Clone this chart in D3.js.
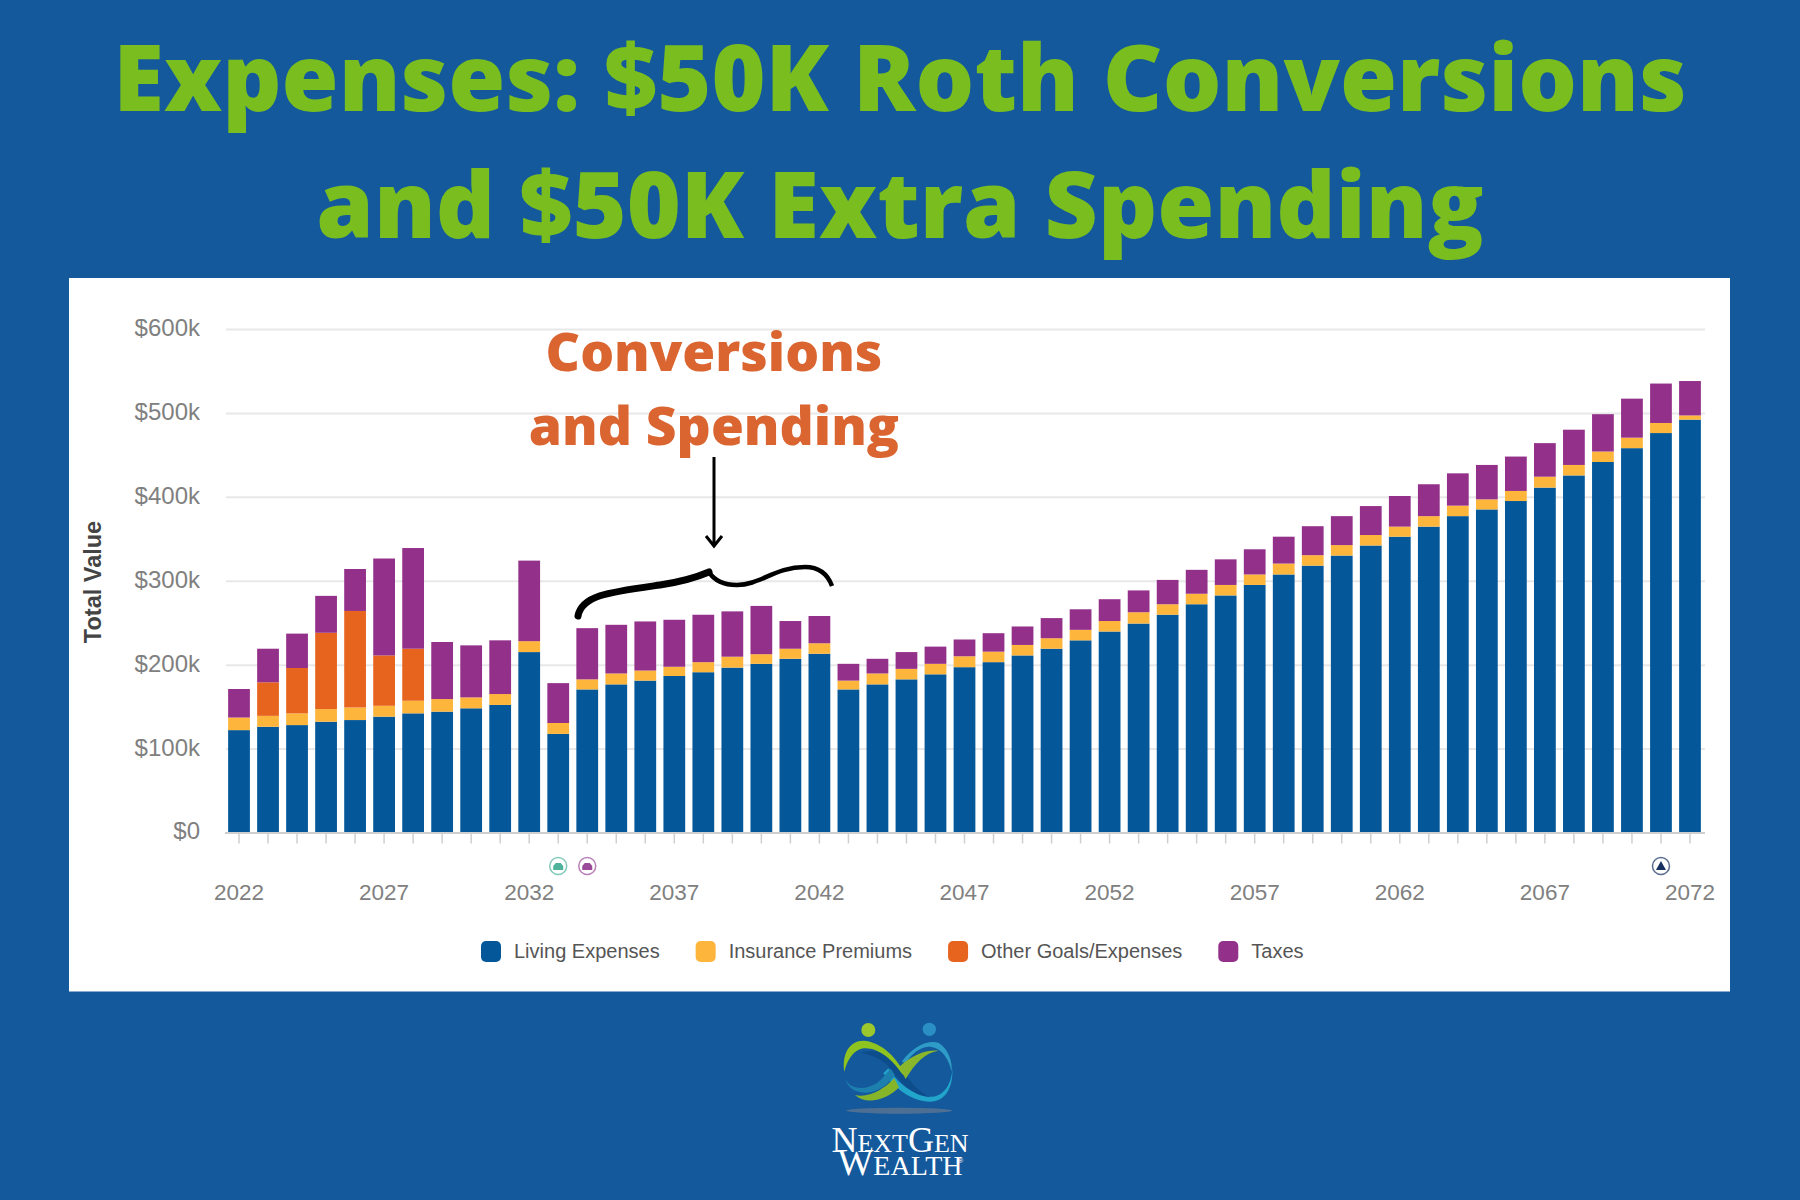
<!DOCTYPE html>
<html>
<head>
<meta charset="utf-8">
<title>Expenses: $50K Roth Conversions and $50K Extra Spending</title>
<script src="https://cdn.jsdelivr.net/npm/d3@7"></script>
<style>
  html, body { margin: 0; padding: 0; background: #14599c; }
  svg { display: block; }
  text { font-family: "Liberation Sans", Arial, sans-serif; }
  .heading { font-family: "Open Sans", sans-serif; font-weight: 800; text-anchor: middle; }
</style>
</head>
<body>
<svg id="chart" width="1800" height="1200"></svg>
<script>
// values in $ thousands
var years = d3.range(2022, 2073);
var living = [122, 126, 128, 132, 134, 138, 142, 144, 148, 152, 215, 117.5, 170.5, 176.5, 181, 186.5, 191, 196.5, 201, 207, 213,
  170.5, 176.5, 182.5, 188.5, 197, 203, 211, 219, 229, 239.5, 249, 259.5, 272, 282.5, 295, 307.5, 318, 330, 342, 352.5,
  364.5, 377, 385, 395, 411, 425.5, 441.5, 458, 476, 492];
var insurance = [15, 13, 14, 15, 15, 13, 15, 15, 13, 13, 13, 13, 12, 13, 12, 11, 12, 13, 11.5, 12, 12.5,
  10.5, 13, 12.5, 12.5, 13, 12.5, 12.5, 12.5, 12.5, 12.5, 13.5, 12.5, 12.5, 12.5, 12.5, 13, 12.5, 12.5, 12.5, 12,
  12.5, 12.5, 12, 12, 13, 12.5, 12.5, 12.5, 12, 5];
var otherGoals = [0, 40, 54, 91, 115, 60, 62, 0, 0, 0, 0, 0, 0, 0, 0, 0, 0, 0, 0, 0, 0,
  0, 0, 0, 0, 0, 0, 0, 0, 0, 0, 0, 0, 0, 0, 0, 0, 0, 0, 0, 0,
  0, 0, 0, 0, 0, 0, 0, 0, 0, 0];
var taxes = [34, 40, 41, 44, 50, 115.5, 120, 68, 62, 64, 96, 47.5, 61, 58, 58.5, 56, 56.5, 54, 57.5, 33, 32.5,
  20, 17.5, 20, 20.5, 20, 22, 22, 24, 24.5, 26, 26, 29, 28.5, 30.5, 30, 32, 34.5, 34.5, 34.5, 36.5,
  38, 38.5, 41, 41, 40, 42, 44.5, 46.5, 47, 41];

var seriesNames = ["Living Expenses", "Insurance Premiums", "Other Goals/Expenses", "Taxes"];
var seriesColors = ["#04589a", "#fdb53c", "#e7641e", "#93318a"];
var yTicks = [0, 100, 200, 300, 400, 500, 600];
var xLabels = [2022, 2027, 2032, 2037, 2042, 2047, 2052, 2057, 2062, 2067, 2072];
var titleLines = ["Expenses: $50K Roth Conversions", "and $50K Extra Spending"];
var noteLines = ["Conversions", "and Spending"];
var markerYears = [2033, 2034, 2071];
var markerColors = ["#4fb39c", "#9a4a98", "#16305f"];

var rows = years.map((y, i) => ({
  year: y,
  "Living Expenses": living[i],
  "Insurance Premiums": insurance[i],
  "Other Goals/Expenses": otherGoals[i],
  "Taxes": taxes[i]
}));

var svg = d3.select("#chart");

svg.append("rect").attr("width", 1800).attr("height", 1200).attr("fill", "#14599c");

// big heading
svg.selectAll(".title")
  .data(titleLines)
  .enter().append("text")
  .attr("class", "heading title")
  .attr("x", 900)
  .attr("y", (d, i) => 111 + i * 127)
  .attr("fill", "#79bd1f")
  .style("font-size", "92.4px")
  .text(d => d);

// white chart panel
svg.append("rect")
  .attr("x", 69).attr("y", 278)
  .attr("width", 1661).attr("height", 713.5)
  .attr("fill", "#fff");

var x = d3.scaleBand().domain(years).range([224.5, 1704.5]).paddingInner(0.25).paddingOuter(0.125);
var y = d3.scaleLinear().domain([0, 600]).range([832.5, 329]);

// y axis with the grid
var yAxis = svg.append("g")
  .attr("transform", "translate(226,0)")
  .call(d3.axisLeft(y)
    .tickValues(yTicks)
    .tickSize(-1479)
    .tickPadding(26)
    .tickFormat(d => d === 0 ? "$0" : "$" + d + "k"));
yAxis.select(".domain").remove();
yAxis.selectAll("line").attr("stroke", "#e8e8e8").attr("stroke-width", 2);
yAxis.selectAll("text").attr("fill", "#808080").attr("dy", "0.27em").style("font-size", "24px");

// stacked bars
var stack = d3.stack().keys(seriesNames);
var color = d3.scaleOrdinal().domain(seriesNames).range(seriesColors);

svg.selectAll(".layer")
  .data(stack(rows))
  .enter().append("g")
  .attr("class", "layer")
  .attr("fill", d => color(d.key))
  .selectAll("rect")
  .data(d => d)
  .enter().append("rect")
  .attr("x", d => x(d.data.year))
  .attr("y", d => y(d[1]))
  .attr("width", x.bandwidth())
  .attr("height", d => y(d[0]) - y(d[1]));

// x axis, a tick every year and a label every five
var xAxis = svg.append("g")
  .attr("transform", "translate(0,832.5)")
  .call(d3.axisBottom(x)
    .tickSizeOuter(0)
    .tickSizeInner(11)
    .tickPadding(40.5)
    .tickFormat(d => xLabels.includes(d) ? d : ""));
xAxis.select(".domain").attr("stroke", "#cfcfcf").attr("stroke-width", 2);
xAxis.selectAll("line").attr("stroke", "#cfcfcf").attr("stroke-width", 1.5);
xAxis.selectAll("text").attr("fill", "#808080").style("font-size", "22.5px");

svg.append("text")
  .attr("transform", "translate(101,582) rotate(-90)")
  .attr("text-anchor", "middle")
  .attr("fill", "#444")
  .style("font-size", "23.5px")
  .style("font-weight", "bold")
  .text("Total Value");

// little event markers under the axis
var markers = svg.selectAll(".marker")
  .data(markerYears)
  .enter().append("g")
  .attr("class", "marker")
  .attr("transform", d => `translate(${x(d) + x.bandwidth() / 2},866)`);
markers.append("circle")
  .attr("r", 8.5)
  .attr("fill", "#fff")
  .attr("stroke", (d, i) => markerColors[i])
  .attr("stroke-opacity", 0.7)
  .attr("stroke-width", 1.5);
markers.append("path")
  .attr("d", d => d === 2071 ? "M-5,4 L0,-5 L5,4 Z" : "M-5,4 L-5,0 L-2.5,-3 L2.5,-3 L5,0 L5,4 Z")
  .attr("fill", (d, i) => markerColors[i]);

// legend, laid out from the measured label widths
var legendX = 481;
seriesNames.forEach(name => {
  var item = svg.append("g").attr("transform", `translate(${legendX},941)`);
  item.append("rect")
    .attr("width", 20).attr("height", 21).attr("rx", 5)
    .attr("fill", color(name));
  var label = item.append("text")
    .attr("x", 33).attr("y", 17)
    .attr("fill", "#555")
    .style("font-size", "20px")
    .text(name);
  legendX += 33 + label.node().getComputedTextLength() + 36;
});

// orange call-out
svg.selectAll(".note")
  .data(noteLines)
  .enter().append("text")
  .attr("class", "heading note")
  .attr("x", 714)
  .attr("y", (d, i) => 371 + i * 74)
  .attr("fill", "#db6530")
  .style("font-size", "53.3px")
  .text(d => d);

svg.append("path")
  .attr("d", "M714,457 L714,545 M706,536 L714,546 L722,536")
  .attr("fill", "none").attr("stroke", "#000").attr("stroke-width", 3);
svg.append("path")
  .attr("d", "M578,616 C582,595 610,592 660,585 C680,582 695,578 709,572")
  .attr("fill", "none").attr("stroke", "#000").attr("stroke-width", 7).attr("stroke-linecap", "round");
svg.append("path")
  .attr("d", "M709,572 C714,580 722,585 737,585 C760,585 775,567 805,567 C820,567 828,575 832,586")
  .attr("fill", "none").attr("stroke", "#000").attr("stroke-width", 4.5);

// logo, drawn in the 3x crop's coordinates
var logo = svg.append("g").attr("transform", "translate(760,1000) scale(0.3333)");
logo.append("ellipse").attr("cx", 418).attr("cy", 332).attr("rx", 158).attr("ry", 9).attr("fill", "#4d6f94");
logo.append("circle").attr("cx", 325).attr("cy", 90).attr("r", 21).attr("fill", "#9cc72d");
logo.append("circle").attr("cx", 508).attr("cy", 88).attr("r", 20).attr("fill", "#2b8fc4");
var ribbons = [
  ["M425,185 C460,140 500,120 535,128 C565,145 578,185 575,215 C565,170 540,140 505,140 C480,142 455,160 437,190 Z", "#2e9cc6"],
  ["M385,205 C420,260 470,290 520,290 C555,285 575,250 577,205 C580,265 555,305 510,305 C455,305 405,265 370,220 Z", "#22a5cb"],
  ["M255,235 C265,265 310,275 350,250 C365,240 378,222 392,205 L405,225 C385,255 355,275 320,278 C285,280 260,260 255,235 Z", "#1c7fae"],
  ["M285,285 C325,295 370,270 403,235 L417,262 C385,298 320,318 285,285 Z", "#86b52a"],
  ["M303,160 C345,140 395,165 430,215 C455,250 480,280 515,292 C465,290 425,255 395,210 C370,180 340,165 303,160 Z", "#0d4d8c"],
  ["M253,215 C245,160 270,122 310,122 C365,125 415,175 440,235 L425,220 C395,175 350,140 310,145 C280,150 262,180 253,215 Z", "#8fc31f"],
  ["M437,237 C465,190 495,158 535,152 C500,148 455,165 418,200 Z", "#8ab62c"]
];
logo.selectAll(".ribbon")
  .data(ribbons)
  .enter().append("path")
  .attr("d", d => d[0])
  .attr("fill", d => d[1]);

var wordmark = [
  { y: 1152, parts: [["N", 36], ["EXT", 26], ["G", 36], ["EN", 26]] },
  { y: 1175, parts: [["W", 38], ["EALTH", 28]] }
];
wordmark.forEach(line => {
  var t = svg.append("text")
    .attr("x", 900).attr("y", line.y)
    .attr("text-anchor", "middle")
    .attr("fill", "#fff")
    .style("font-family", '"Liberation Serif", serif');
  line.parts.forEach(p => t.append("tspan").style("font-size", p[1] + "px").text(p[0]));
});
svg.append("text")
  .attr("x", 958).attr("y", 1163)
  .attr("fill", "#fff")
  .style("font-size", "7px")
  .text("®");
</script>
</body>
</html>
